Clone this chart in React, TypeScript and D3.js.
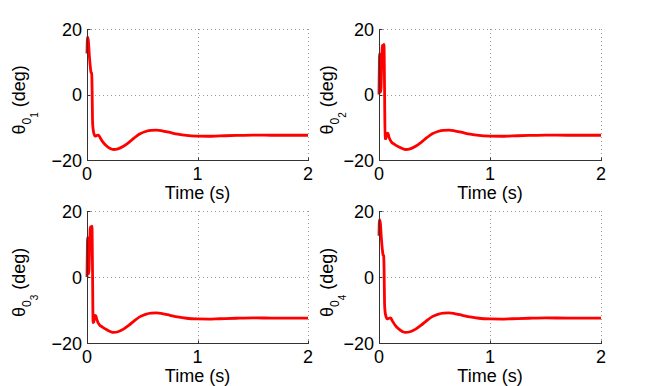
import React, { useEffect, useRef } from 'react'
import * as d3 from 'd3'

const xTicks = [0, 1, 2]
const yTicks = [-20, 0, 20]
const jointLabels = ['1', '2', '3', '4']

// joints 1 and 4: start high, drop to the settling curve
const time14 = [0, 0.004, 0.012, 0.022, 0.03, 0.036, 0.042, 0.046, 0.05, 0.055, 0.065, 0.075, 0.09, 0.105, 0.12, 0.15, 0.18]
const theta1 = [12.5, 17.5, 16.5, 11.5, 8.5, 6.8, 6.5, 2, -8, -10.5, -12.2, -12.7, -12.5, -12.4, -13.3, -14.8, -15.8]
const theta4 = [12.5, 17.4, 16.4, 11.4, 8.4, 6.8, 6.4, 2, -8, -10.6, -12.2, -12.7, -12.5, -12.4, -13.3, -14.8, -15.8]

// joints 2 and 3: double spike before the drop
const time23 = [0, 0.006, 0.016, 0.024, 0.03, 0.038, 0.045, 0.05, 0.055, 0.062, 0.07, 0.08, 0.09, 0.11, 0.14, 0.18]
const theta2 = [0, 12.5, 0.8, 9, 15, 14.5, 15.3, 2, -13.4, -13.5, -12, -11.8, -13, -14.4, -15.2, -16]
const theta3 = [0, 12, 1, 9.5, 15.2, 14.6, 15.4, 2, -13.8, -13.6, -11.6, -11.8, -13, -14.4, -15.2, -16]

// slow settling part, the same for all four joints
const tailTime = [0.21, 0.24, 0.28, 0.33, 0.38, 0.43, 0.48, 0.53, 0.58, 0.63, 0.68, 0.75, 0.82, 0.9, 1.0, 1.1, 1.2, 1.35, 1.5, 1.7, 2.0]
const tailTheta = [-16.5, -16.8, -16.6, -15.8, -14.6, -13.2, -12.0, -11.3, -10.95, -10.9, -11.1, -11.6, -12.1, -12.5, -12.7, -12.75, -12.65, -12.5, -12.4, -12.45, -12.45]

const series = [
  { t: time14, v: theta1 },
  { t: time23, v: theta2 },
  { t: time23, v: theta3 },
  { t: time14, v: theta4 },
]

const font = 'Liberation Sans, Arial, Helvetica, sans-serif'
const cols = [{ left: 87, right: 308, labelX: 25 }, { left: 379, right: 601, labelX: 333 }]
const rows = [{ top: 29, bottom: 160 }, { top: 211, bottom: 343 }]

function drawPanel(svg, index) {
  const col = cols[index % 2]
  const row = rows[Math.floor(index / 2)]
  const g = svg.append('g')

  const x = d3.scaleLinear().domain([0, 2]).range([col.left, col.right])
  const y = d3.scaleLinear().domain([-20, 20]).range([row.bottom, row.top])
  const px = v => Math.round(x(v)) + 0.5
  const py = v => Math.round(y(v)) + 0.5

  // dotted grid
  g.selectAll('.gx').data(xTicks).enter().append('line')
    .attr('x1', px).attr('x2', px)
    .attr('y1', row.top).attr('y2', row.bottom)
    .attr('stroke', '#999').attr('stroke-dasharray', '1,3')
  g.selectAll('.gy').data(yTicks).enter().append('line')
    .attr('y1', py).attr('y2', py)
    .attr('x1', col.left).attr('x2', col.right)
    .attr('stroke', '#999').attr('stroke-dasharray', '1,3')

  // data
  const s = series[index]
  const pts = s.t.map((t, i) => [t, s.v[i]]).concat(tailTime.map((t, i) => [t, tailTheta[i]]))
  const line = d3.line().x(d => x(d[0])).y(d => y(d[1])).curve(d3.curveMonotoneX)
  g.append('path').datum(pts)
    .attr('d', line)
    .attr('fill', 'none')
    .attr('stroke', '#ff0000')
    .attr('stroke-width', 2.8)
    .attr('stroke-linejoin', 'round')

  // axes
  const axisColor = '#333'
  g.append('line').attr('x1', px(0)).attr('x2', px(0)).attr('y1', row.top).attr('y2', py(-20))
    .attr('stroke', axisColor)
  g.append('line').attr('x1', px(0)).attr('x2', col.right + 1).attr('y1', py(-20)).attr('y2', py(-20))
    .attr('stroke', axisColor)
  g.selectAll('.tx').data(xTicks).enter().append('line')
    .attr('x1', px).attr('x2', px).attr('y1', py(-20)).attr('y2', py(-20) - 3)
    .attr('stroke', axisColor)
  g.selectAll('.ty').data(yTicks).enter().append('line')
    .attr('y1', py).attr('y2', py).attr('x1', px(0)).attr('x2', px(0) + 3)
    .attr('stroke', axisColor)

  // tick labels
  g.selectAll('.lx').data(xTicks).enter().append('text')
    .attr('x', d => x(d)).attr('y', row.bottom + 20)
    .attr('text-anchor', 'middle')
    .attr('font-family', font).attr('font-size', 18)
    .text(d => d)
  g.selectAll('.ly').data(yTicks).enter().append('text')
    .attr('x', col.left - 5).attr('y', d => y(d) + 6.5)
    .attr('text-anchor', 'end')
    .attr('font-family', font).attr('font-size', 18)
    .text(d => (d < 0 ? '\u2212' + Math.abs(d) : d))

  // axis titles
  g.append('text')
    .attr('x', (col.left + col.right) / 2).attr('y', row.bottom + 39)
    .attr('text-anchor', 'middle')
    .attr('font-family', font).attr('font-size', 18)
    .text('Time (s)')

  const cy = (row.top + row.bottom) / 2 + 40
  const label = g.append('text')
    .attr('transform', `translate(${col.labelX},${cy}) rotate(-90)`)
    .attr('font-family', font).attr('font-size', 18)
  label.append('tspan').text('θ')
  label.append('tspan').attr('font-size', 12).attr('dy', 6).text('0')
  label.append('tspan').attr('font-size', 10).attr('dy', 7).text(jointLabels[index])
  label.append('tspan').attr('dy', -13).text('\u00a0(deg)')
}

export default function App() {
  const svgRef = useRef(null)

  useEffect(() => {
    const svg = d3.select(svgRef.current)
    svg.selectAll('*').remove()
    for (let i = 0; i < 4; ++i) drawPanel(svg, i)
  }, [])

  return (
    <svg ref={svgRef} width={664} height={386}
      style={{ position: 'absolute', left: 0, top: 0, background: '#fff' }} />
  )
}
